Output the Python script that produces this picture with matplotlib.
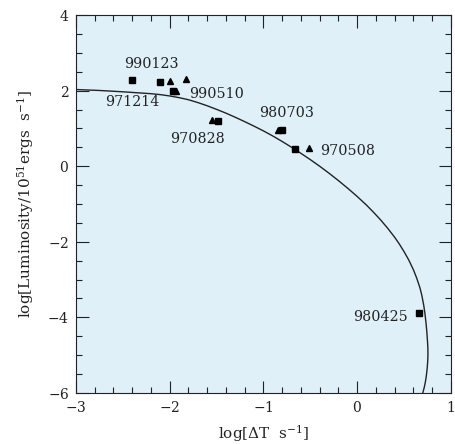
import matplotlib
matplotlib.use("Agg")
import matplotlib.pyplot as plt
from matplotlib.ticker import MultipleLocator

# Data
sq_x = [-2.40, -2.10, -1.96, -1.48, -0.80, -0.66, 0.657]
sq_y = [2.27, 2.22, 2.00, 1.20, 0.95, 0.45, -3.89]
tri_x = [-2.00, -1.83, -1.93, -1.55, -0.84, -0.51]
tri_y = [2.25, 2.30, 2.00, 1.22, 0.96, 0.47]

curve_x = [-3.0, -2.75, -2.5, -2.35, -2.2, -2.1, -2.0, -1.9, -1.8, -1.7, -1.6,
           -1.5, -1.4, -1.3, -1.2, -1.1, -1.0, -0.9, -0.8, -0.66, -0.5,
           -0.4, -0.3, -0.2, -0.1, 0.0, 0.1, 0.175, 0.25, 0.325, 0.4,
           0.45, 0.5, 0.55, 0.6, 0.635, 0.67, 0.69, 0.71, 0.723, 0.735,
           0.743, 0.75, 0.754, 0.755, 0.753, 0.748, 0.742, 0.735, 0.726,
           0.715, 0.70]
curve_y = [2.03, 2.005, 1.97, 1.945, 1.92, 1.895, 1.86, 1.815, 1.76, 1.685, 1.60,
           1.505, 1.405, 1.295, 1.18, 1.06, 0.935, 0.80, 0.655, 0.44, 0.175,
           0.0, -0.185, -0.38, -0.585, -0.80, -1.03, -1.22, -1.42, -1.64, -1.88,
           -2.06, -2.26, -2.48, -2.74, -2.96, -3.22, -3.42, -3.68, -3.90, -4.16,
           -4.38, -4.62, -4.80, -4.98, -5.14, -5.32, -5.46, -5.60, -5.73,
           -5.86, -6.0]

labels = ["990123", "971214", "990510", "970828", "980703", "970508", "980425"]
label_x = [-2.20, -2.40, -1.50, -1.70, -0.75, -0.10, 0.254]
label_y = [2.70, 1.69, 1.90, 0.71, 1.40, 0.40, -3.98]

plt.rcParams['font.family'] = ['DejaVu Serif']
plt.rcParams['mathtext.fontset'] = 'dejavuserif'

fig = plt.figure(figsize=(4.55, 4.44), dpi=100)
ax = fig.add_axes([0.167, 0.115, 0.824, 0.851])
ax.set_facecolor('#dff0f9')

ax.plot(curve_x, curve_y, color='#222222', lw=1.0)
ax.plot(sq_x, sq_y, 's', color='black', ms=4.2, ls='none')
ax.plot(tri_x, tri_y, '^', color='black', ms=4.5, ls='none')

for t, x, y in zip(labels, label_x, label_y):
    ax.text(x, y, t, ha='center', va='center', fontsize=10.3, color='#222222')

ax.set_xlim(-3, 1)
ax.set_ylim(-6, 4)
ax.xaxis.set_major_locator(MultipleLocator(1))
ax.xaxis.set_minor_locator(MultipleLocator(0.2))
ax.yaxis.set_major_locator(MultipleLocator(2))
ax.yaxis.set_minor_locator(MultipleLocator(0.5))
ax.tick_params(which='both', direction='in', top=True, right=True,
               labelsize=10, colors='#222222', width=0.8)
ax.tick_params(which='major', length=9, pad=5)
ax.tick_params(which='minor', length=4.5)
ax.set_xticks([-3, -2, -1, 0, 1])
ax.set_xticklabels(['$-3$', '$-2$', '$-1$', '$0$', '$1$'])
ax.set_yticks([-6, -4, -2, 0, 2, 4])
ax.set_yticklabels(['$-6$', '$-4$', '$-2$', '$0$', '$2$', '$4$'])
for s in ax.spines.values():
    s.set_linewidth(0.8)
    s.set_color('#222222')

ax.set_xlabel(r'log[$\Delta$T  s$^{-1}$]', fontsize=11, labelpad=6, color='#222222')
ax.set_ylabel(r'log[Luminosity/10$^{51}$ergs  s$^{-1}$]', fontsize=11, labelpad=8, color='#222222')

fig.savefig('out.png', dpi=100)
